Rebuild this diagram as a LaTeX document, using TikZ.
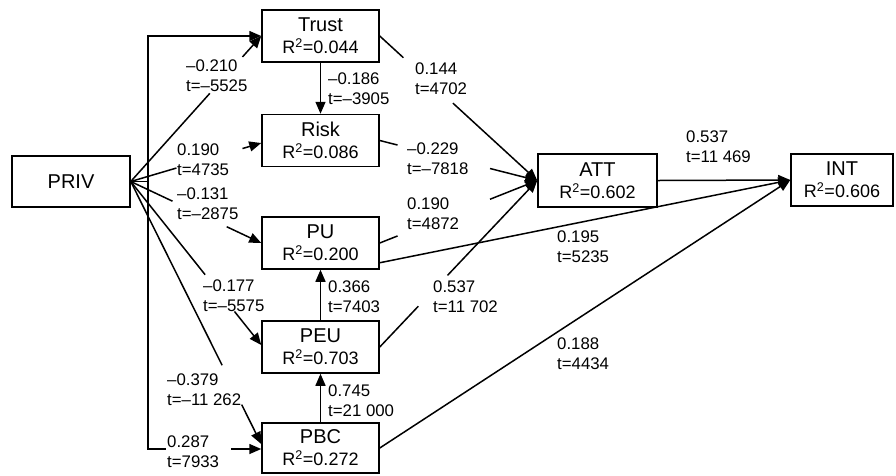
\documentclass[tikz,border=0pt]{standalone}
\usepackage{fontspec}
\setmainfont{Liberation Sans}
\usetikzlibrary{arrows.meta,calc}
\newcommand\labfont{\fontsize{16.8}{20}\selectfont}
\newcommand\boxtext[2]{{\fontsize{20}{22}\selectfont #1}\\{\fontsize{18}{22}\selectfont R\textsuperscript{2}=#2}}
\newcommand\twolines[2]{{\labfont #1}\\{\labfont #2}}
\newcommand\gapline[4]{%
  \draw[plain] (#1) -- ($(#1)!#3!(#2)$);
  \draw[conn] ($(#1)!#4!(#2)$) -- (#2);}
\begin{document}
\begin{tikzpicture}[x=1pt,y=-1pt,
  box/.style={draw, line width=1.5pt, minimum width=117pt, minimum height=52pt,
    inner sep=0pt, align=center, font=\fontsize{18}{22}\selectfont},
  plain/.style={line width=1.5pt},
  conn/.style={line width=1.5pt, -{Triangle[length=12pt,width=10pt]}},
  lab/.style={anchor=west, align=left, inner sep=0pt, font=\labfont}]
\useasboundingbox (0,0) rectangle (896,475);
% boxes
\node[box, minimum width=118pt, minimum height=51pt, font=\fontsize{20}{22}\selectfont] (PRIV) at (71,181.5) {PRIV};
\node[box] (Trust) at (320.5,36) {\boxtext{Trust}{0.044}};
\node[box] (Risk) at (320.5,140.5) {\boxtext{Risk}{0.086}};
\node[box] (PU) at (320.5,243) {\boxtext{PU}{0.200}};
\node[box] (PEU) at (320.5,347) {\boxtext{PEU}{0.703}};
\node[box, minimum height=50pt] (PBC) at (320.5,448) {\boxtext{PBC}{0.272}};
\node[box, minimum width=119pt, minimum height=53pt] (ATT) at (597.5,180.5) {\boxtext{ATT}{0.602}};
\node[box, minimum width=102pt] (INT) at (842,180) {\boxtext{INT}{0.606}};
% helper coordinates
\coordinate (J) at (148,181.5);
\coordinate (RiskIn) at ($(Risk.west)+(0,2.5)$);
\coordinate (PEUIn) at ($(PEU.west)+(0,-2)$);
\coordinate (PBCIn) at ($(PBC.west)+(0,-4)$);
\coordinate (PBCel) at ($(PBC.west)+(0,1)$);
\coordinate (ElGapA) at ($(PBCel)+(-95,0)$);
\coordinate (ElGapB) at ($(PBCel)+(-30,0)$);
\coordinate (PUout) at ($(PU.south east)+(0,-7)$);
% elbow from PRIV
\draw[plain] (PRIV.east) -- (J);
\draw[conn] (J) |- (Trust.west);
\draw[plain] (J) |- (ElGapA);
\draw[conn] (ElGapB) -- (PBCel);
% fan from PRIV
\gapline{PRIV.east}{Trust.west}{0.606}{0.856}
\gapline{PRIV.east}{RiskIn}{0.35}{0.856}
\gapline{PRIV.east}{PU.west}{0.32}{0.735}
\gapline{PRIV.east}{PEUIn}{0.57}{0.795}
\gapline{PRIV.east}{PBCIn}{0.70}{0.85}
% into ATT
\gapline{Trust.east}{ATT.west}{0.15}{0.465}
\gapline{Risk.east}{ATT.west}{0.113}{0.70}
\gapline{PU.east}{ATT.west}{0.113}{0.70}
\gapline{PEU.east}{ATT.west}{0.245}{0.43}
% into INT
\draw[conn] (ATT.east) -- (INT.west);
\draw[conn] (PUout) -- (INT.west);
\draw[conn] (PBC.east) -- (INT.west);
% verticals
\draw[conn] (Trust.south) -- (Risk.north);
\draw[conn] (PEU.north) -- (PU.south);
\draw[conn] (PBC.north) -- (PEU.south);
% labels
\node[lab] (l1) at (186,76) {\twolines{–0.210}{t=–5525}};
\node[lab] (l2) at (177,160) {\twolines{0.190}{t=4735}};
\node[lab] (l3) at (177,204) {\twolines{–0.131}{t=–2875}};
\node[lab] (l4) at (203,296) {\twolines{–0.177}{t=–5575}};
\node[lab] (l5) at (167,390) {\twolines{–0.379}{t=–11 262}};
\node[lab] (l6) at (167,452) {\twolines{0.287}{t=7933}};
\node[lab] (l7) at (328,89) {\twolines{–0.186}{t=–3905}};
\node[lab] (l8) at (415,79) {\twolines{0.144}{t=4702}};
\node[lab] (l9) at (407,159) {\twolines{–0.229}{t=–7818}};
\node[lab] (l10) at (407,214) {\twolines{0.190}{t=4872}};
\node[lab] (l11) at (433,297) {\twolines{0.537}{t=11 702}};
\node[lab] (l12) at (328,297) {\twolines{0.366}{t=7403}};
\node[lab] (l13) at (328,401) {\twolines{0.745}{t=21 000}};
\node[lab] (l14) at (686,147) {\twolines{0.537}{t=11 469}};
\node[lab] (l15) at (557,247) {\twolines{0.195}{t=5235}};
\node[lab] (l16) at (557,354) {\twolines{0.188}{t=4434}};
\end{tikzpicture}
\end{document}
